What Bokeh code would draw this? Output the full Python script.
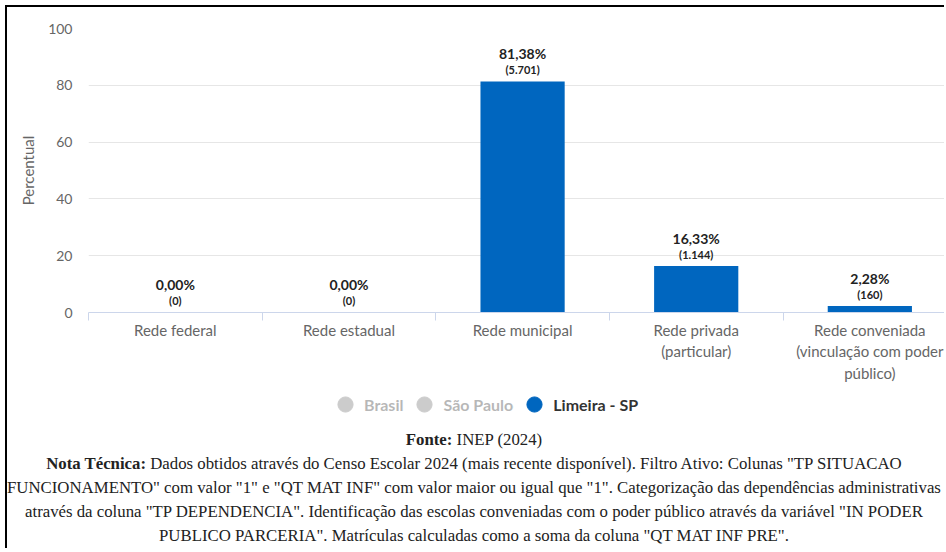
from bokeh.plotting import figure
from bokeh.models import (FixedTicker, Range1d, ColumnDataSource, Legend, LegendItem, Div)
from bokeh.layouts import column
from bokeh.core.properties import value
from bokeh.embed import file_html
from bokeh.resources import INLINE

# ---- data ----
categories = ["Rede federal", "Rede estadual", "Rede municipal",
              "Rede privada\n(particular)",
              "Rede conveniada\n(vinculação com poder\npúblico)"]
percentages = [0.00, 0.00, 81.38, 16.33, 2.28]
enrolments = [0, 0, 5701, 1144, 160]
y_ticks = [0, 20, 40, 60, 80, 100]
series_names = ["Brasil", "São Paulo", "Limeira - SP"]
series_visible = [False, False, True]

source_label = "INEP (2024)"
note_lines = [
    'Dados obtidos através do Censo Escolar 2024 (mais recente disponível). Filtro Ativo: Colunas "TP SITUACAO',
    'FUNCIONAMENTO" com valor "1" e "QT MAT INF" com valor maior ou igual que "1". Categorização das dependências administrativas',
    'através da coluna "TP DEPENDENCIA". Identificação das escolas conveniadas com o poder público através da variável "IN PODER',
    'PUBLICO PARCERIA". Matrículas calculadas como a soma da coluna "QT MAT INF PRE".',
]

# ---- style ----
BLUE = "#0066bf"
HIDDEN = "#6d6d6d"
FONT = "Lato"
GREY_TXT = "#666666"
W = 937

xs = list(range(len(categories)))
pct_labels = [f"{v:.2f}".replace(".", ",") + "%" for v in percentages]
count_labels = ["(" + f"{n:,}".replace(",", ".") + ")" for n in enrolments]

src = ColumnDataSource(dict(x=xs, pct=percentages, pl=pct_labels, cl=count_labels))

p = figure(width=W, height=377, x_range=Range1d(-0.5, 4.43), y_range=Range1d(0, 100),
           output_backend="svg", toolbar_location=None,
           min_border_left=81, min_border_top=21, min_border_right=0, min_border_bottom=10,
           outline_line_color=None, background_fill_color="white", border_fill_color="white")

p.vbar(x="x", top="pct", width=0.485, source=src, color=BLUE, line_color=None)
p.text(x="x", y="pct", text="pl", source=src, text_align="center", text_baseline="middle",
       y_offset=-28, text_font_size="14px", text_font_style="bold", text_color="#222222",
       text_font=value(FONT))
p.text(x="x", y="pct", text="cl", source=src, text_align="center", text_baseline="middle",
       y_offset=-12, text_font_size="11px", text_font_style="bold", text_color="#222222",
       text_font=value(FONT))

# axes
p.xaxis.ticker = FixedTicker(ticks=xs, minor_ticks=[i - 0.5 for i in range(len(xs) + 1)])
p.xaxis.major_label_overrides = {i: c for i, c in enumerate(categories)}
p.xaxis.major_tick_line_color = None
p.xaxis.major_tick_out = 0
p.xaxis.major_tick_in = 0
p.xaxis.minor_tick_out = 8
p.xaxis.minor_tick_in = 0
p.xaxis.minor_tick_line_color = "#ccd6eb"
p.xaxis.axis_line_color = "#ccd6eb"
p.xaxis.major_label_standoff = 0
p.xaxis.major_label_text_font = FONT
p.xaxis.major_label_text_font_size = "15px"
p.xaxis.major_label_text_color = GREY_TXT
p.xgrid.visible = False

p.yaxis.ticker = FixedTicker(ticks=y_ticks)
p.ygrid.ticker = FixedTicker(ticks=y_ticks)
p.ygrid.grid_line_color = "#e6e6e6"
p.yaxis.axis_line_color = None
p.yaxis.major_tick_line_color = None
p.yaxis.minor_tick_line_color = None
p.yaxis.major_label_text_font = FONT
p.yaxis.major_label_text_font_size = "14px"
p.yaxis.major_label_text_color = GREY_TXT
p.yaxis.major_label_standoff = 10
p.yaxis.axis_label = "Percentual"
p.yaxis.axis_label_text_font = FONT
p.yaxis.axis_label_text_font_size = "15px"
p.yaxis.axis_label_text_font_style = "normal"
p.yaxis.axis_label_text_color = GREY_TXT
p.yaxis.axis_label_standoff = 8

# legend (own strip)
lg = figure(width=W, height=44, x_range=Range1d(0, 1), y_range=Range1d(0, 1),
            output_backend="svg", toolbar_location=None, min_border=0,
            outline_line_color=None, border_fill_color="white")
lg.axis.visible = False
lg.grid.visible = False
items = []
for name, vis in zip(series_names, series_visible):
    col = BLUE if vis else HIDDEN
    r = lg.scatter(x=[-5], y=[-5], marker="circle", size=15, color=col, visible=vis)
    items.append(LegendItem(label=name, renderers=[r]))
legend = Legend(items=items, orientation="horizontal", location=(238, 5), click_policy="hide",
                label_text_font=FONT, label_text_font_style="bold", label_text_font_size="16px",
                label_text_color="#333333", border_line_color=None, background_fill_alpha=0,
                inactive_fill_color="white", inactive_fill_alpha=0.65,
                glyph_width=38, glyph_height=38, spacing=2, label_standoff=0,
                padding=0, margin=0)
lg.add_layout(legend, "center")

footer = ("<div style=\"text-align:center;font-family:'Liberation Serif',serif;font-size:16.8px;"
          "line-height:24px;color:#222;white-space:nowrap;\">"
          f"<b>Fonte:</b> {source_label}<br><b>Nota Técnica:</b> " + "<br>".join(note_lines) + "</div>")
div = Div(text=footer, width=W, height=120, margin=0)

layout = column(p, lg, div, spacing=0, margin=(5, 0, 0, 5),
                styles={"border-top": "2px solid black", "border-left": "2px solid black"})

open("out.html", "w").write(file_html(layout, INLINE))
